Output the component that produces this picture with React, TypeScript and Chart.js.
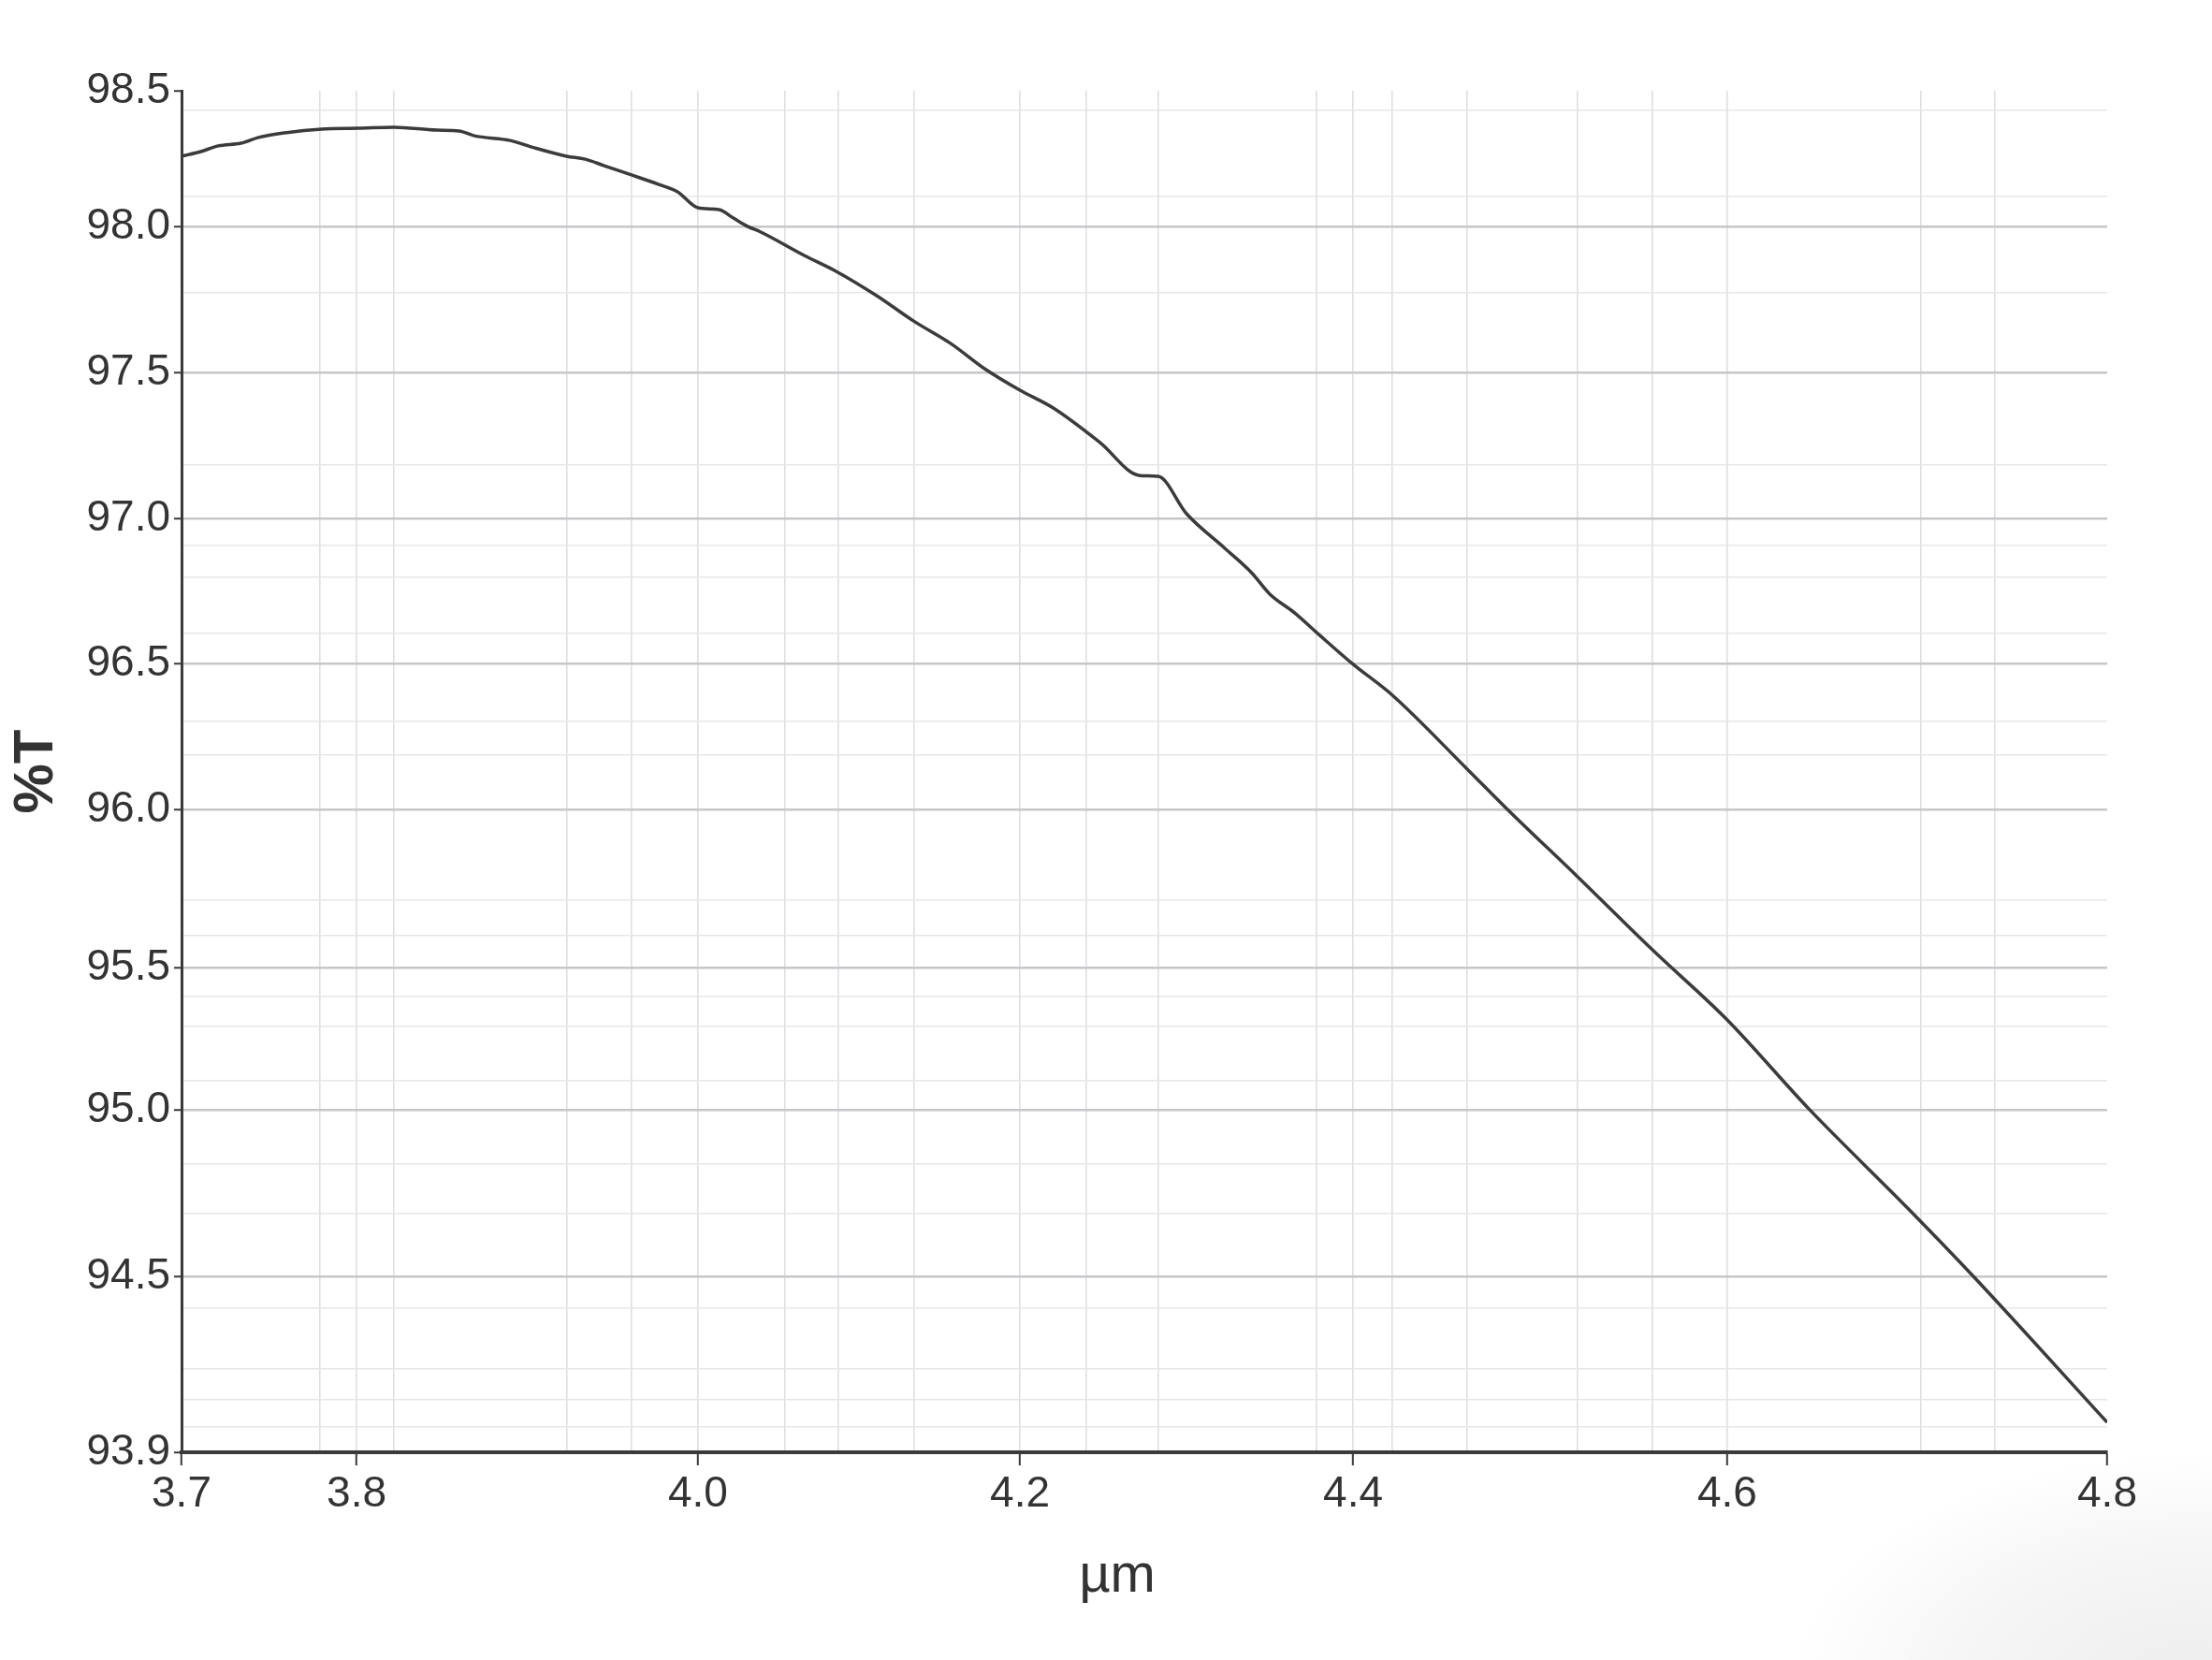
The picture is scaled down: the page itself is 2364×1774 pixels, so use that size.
import React, { useEffect, useRef } from "react";
import { Chart, LinearScale, registerables } from "chart.js";

// trace: wavelength (µm) and transmittance (%T)
const wavelength = [
  3.7, 3.711, 3.721, 3.734, 3.744, 3.759, 3.78, 3.801, 3.822, 3.847,
  3.86, 3.869, 3.89, 3.904, 3.923, 3.934, 3.945, 3.961, 3.977, 3.988,
  4.0, 4.013, 4.022, 4.031, 4.039, 4.066, 4.085, 4.111, 4.134, 4.157,
  4.178, 4.2, 4.22, 4.248, 4.272, 4.283, 4.3, 4.323, 4.339, 4.35,
  4.365, 4.379, 4.4, 4.421, 4.461, 4.483, 4.52, 4.56, 4.6, 4.643,
  4.696, 4.73, 4.8,
];
const transmittance = [
  98.259, 98.276, 98.297, 98.307, 98.328, 98.345, 98.359, 98.362, 98.366, 98.355,
  98.352, 98.334, 98.317, 98.29, 98.259, 98.248, 98.224, 98.19, 98.155, 98.128,
  98.069, 98.062, 98.031, 98.0, 97.981, 97.901, 97.849, 97.763, 97.676, 97.599,
  97.513, 97.439, 97.378, 97.26, 97.147, 97.144, 97.016, 96.897, 96.813, 96.739,
  96.674, 96.602, 96.497, 96.391, 96.138, 95.997, 95.787, 95.556, 95.316, 95.003,
  94.699, 94.497, 94.002,
];

// labelled ticks
const xMajorTicks = [3.7, 3.8, 4.0, 4.2, 4.4, 4.6, 4.8];
const yMajorTicks = [93.9, 94.5, 95.0, 95.5, 96.0, 96.5, 97.0, 97.5, 98.0, 98.5];

// unlabelled grid lines
const xMinorTicks = [
  3.779, 3.822, 3.923, 3.961, 4.054, 4.087, 4.134, 4.24, 4.283, 4.378,
  4.421, 4.461, 4.52, 4.56, 4.702, 4.741,
];
const yMinorTicks = [
  93.986, 94.078, 94.186, 94.392, 94.689, 94.839, 95.102, 95.293, 95.398, 95.6,
  95.715, 96.187, 96.303, 96.603, 96.797, 96.906, 97.185, 97.774, 98.11, 98.428,
];

// the printed axes are not evenly spaced: where each labelled tick sits along its axis (0..1)
const xTickSpacing = [0, 0.0909, 0.2682, 0.4354, 0.6084, 0.8027, 1];
const yTickSpacing = [0, 0.1292, 0.2515, 0.356, 0.4722, 0.5794, 0.6859, 0.7931, 0.9003, 1];

const interp = (v: number, from: number[], to: number[]) => {
  for (let i = 1; i < from.length; i++) {
    if (v <= from[i] || i === from.length - 1) {
      const t = (v - from[i - 1]) / (from[i] - from[i - 1]);
      return to[i - 1] + t * (to[i] - to[i - 1]);
    }
  }
  return to[0];
};

// linear scale that follows the uneven tick spacing of the original print
class SpacedScale extends LinearScale {
  static id = "spaced";
  static defaults = LinearScale.defaults;

  knots(): [number[], number[]] {
    return this.axis === "x" ? [xMajorTicks, xTickSpacing] : [yMajorTicks, yTickSpacing];
  }

  getPixelForValue(value: number) {
    if (value === null || value === undefined) return NaN;
    const [vals, pos] = this.knots();
    return this.getPixelForDecimal(interp(value, vals, pos));
  }

  getValueForPixel(pixel: number) {
    const [vals, pos] = this.knots();
    return interp(this.getDecimalForPixel(pixel), pos, vals);
  }
}

Chart.register(...registerables, SpacedScale);

const SANS = "'Liberation Sans', Arial, sans-serif";
const TEXT = "#333333";
const AXIS = "#3a3a3a";

const App: React.FC = () => {
  const chartRef = useRef<HTMLCanvasElement>(null);
  const chartInstance = useRef<Chart | null>(null);

  useEffect(() => {
    if (!chartRef.current) return;
    const ctx = chartRef.current.getContext("2d");
    if (!ctx) return;

    const isMajor = (list: number[], v: number) => list.some((m) => Math.abs(m - v) < 1e-6);

    chartInstance.current = new Chart(ctx, {
      type: "line",
      data: {
        datasets: [
          {
            label: "%T",
            data: wavelength.map((w, i) => ({ x: w, y: transmittance[i] })),
            borderColor: "#3b3b3b",
            borderWidth: 3.5,
            pointRadius: 0,
            cubicInterpolationMode: "monotone",
            fill: false,
          },
        ],
      },
      options: {
        animation: false,
        responsive: true,
        maintainAspectRatio: false,
        layout: {
          padding: { top: 97, right: 112, bottom: 0, left: 0 },
        },
        plugins: {
          legend: { display: false },
          tooltip: { enabled: false },
        },
        scales: {
          x: {
            type: "spaced" as any,
            min: 3.7,
            max: 4.8,
            afterBuildTicks: (scale: any) => {
              scale.ticks = [...xMajorTicks, ...xMinorTicks]
                .sort((a, b) => a - b)
                .map((v) => ({ value: v }));
            },
            afterFit: (scale: any) => {
              scale.height = 222;
            },
            ticks: {
              autoSkip: false,
              maxRotation: 0,
              padding: 4,
              color: TEXT,
              font: { family: SANS, size: 46 },
              callback: (value: any) =>
                isMajor(xMajorTicks, Number(value)) ? Number(value).toFixed(1) : "",
            },
            grid: {
              color: (c: any) => {
                const v = c.tick?.value;
                if (v === 3.7 || v === 4.8) return "rgba(0,0,0,0)";
                return "#dcdfe4";
              },
              lineWidth: 1.6,
              tickLength: 14,
              tickWidth: 2,
              tickColor: (c: any) =>
                isMajor(xMajorTicks, c.tick?.value) ? AXIS : "rgba(0,0,0,0)",
            },
            border: { display: true, color: AXIS, width: 4 },
            title: {
              display: true,
              text: "µm\u2002\u2002",
              color: TEXT,
              font: { family: SANS, size: 58 },
              padding: { top: 0, bottom: 54 },
            },
          },
          y: {
            type: "spaced" as any,
            min: 93.9,
            max: 98.5,
            afterBuildTicks: (scale: any) => {
              scale.ticks = [...yMajorTicks, ...yMinorTicks]
                .sort((a, b) => a - b)
                .map((v) => ({ value: v }));
            },
            afterFit: (scale: any) => {
              scale.width = 194;
            },
            ticks: {
              autoSkip: false,
              padding: 4,
              color: TEXT,
              font: { family: SANS, size: 46 },
              callback: (value: any) =>
                isMajor(yMajorTicks, Number(value)) ? Number(value).toFixed(1) : "",
            },
            grid: {
              color: (c: any) => {
                const v = c.tick?.value;
                if (v === 98.5 || v === 93.9) return "rgba(0,0,0,0)";
                return isMajor(yMajorTicks, v) ? "#c6c7cb" : "#e6e7eb";
              },
              lineWidth: (c: any) => (isMajor(yMajorTicks, c.tick?.value) ? 2.5 : 1.6),
              tickLength: 8,
              tickWidth: 2,
              tickColor: (c: any) =>
                isMajor(yMajorTicks, c.tick?.value) ? AXIS : "rgba(0,0,0,0)",
            },
            border: { display: true, color: AXIS, width: 3 },
            title: {
              display: true,
              text: "%T",
              color: TEXT,
              font: { family: SANS, size: 60, weight: "bold" },
              padding: { top: 3, bottom: 0 },
            },
          },
        },
      },
    });

    return () => {
      if (chartInstance.current) {
        chartInstance.current.destroy();
        chartInstance.current = null;
      }
    };
  }, []);

  return (
    <div
      style={{
        position: "fixed",
        left: 0,
        top: 0,
        width: "2364px",
        height: "1774px",
        background:
          "radial-gradient(ellipse 430px 250px at 2340px 1800px, rgba(0,0,0,0.07), rgba(0,0,0,0.035) 60%, rgba(0,0,0,0) 100%), #ffffff",
      }}
    >
      <canvas ref={chartRef}></canvas>
    </div>
  );
};

export default App;
